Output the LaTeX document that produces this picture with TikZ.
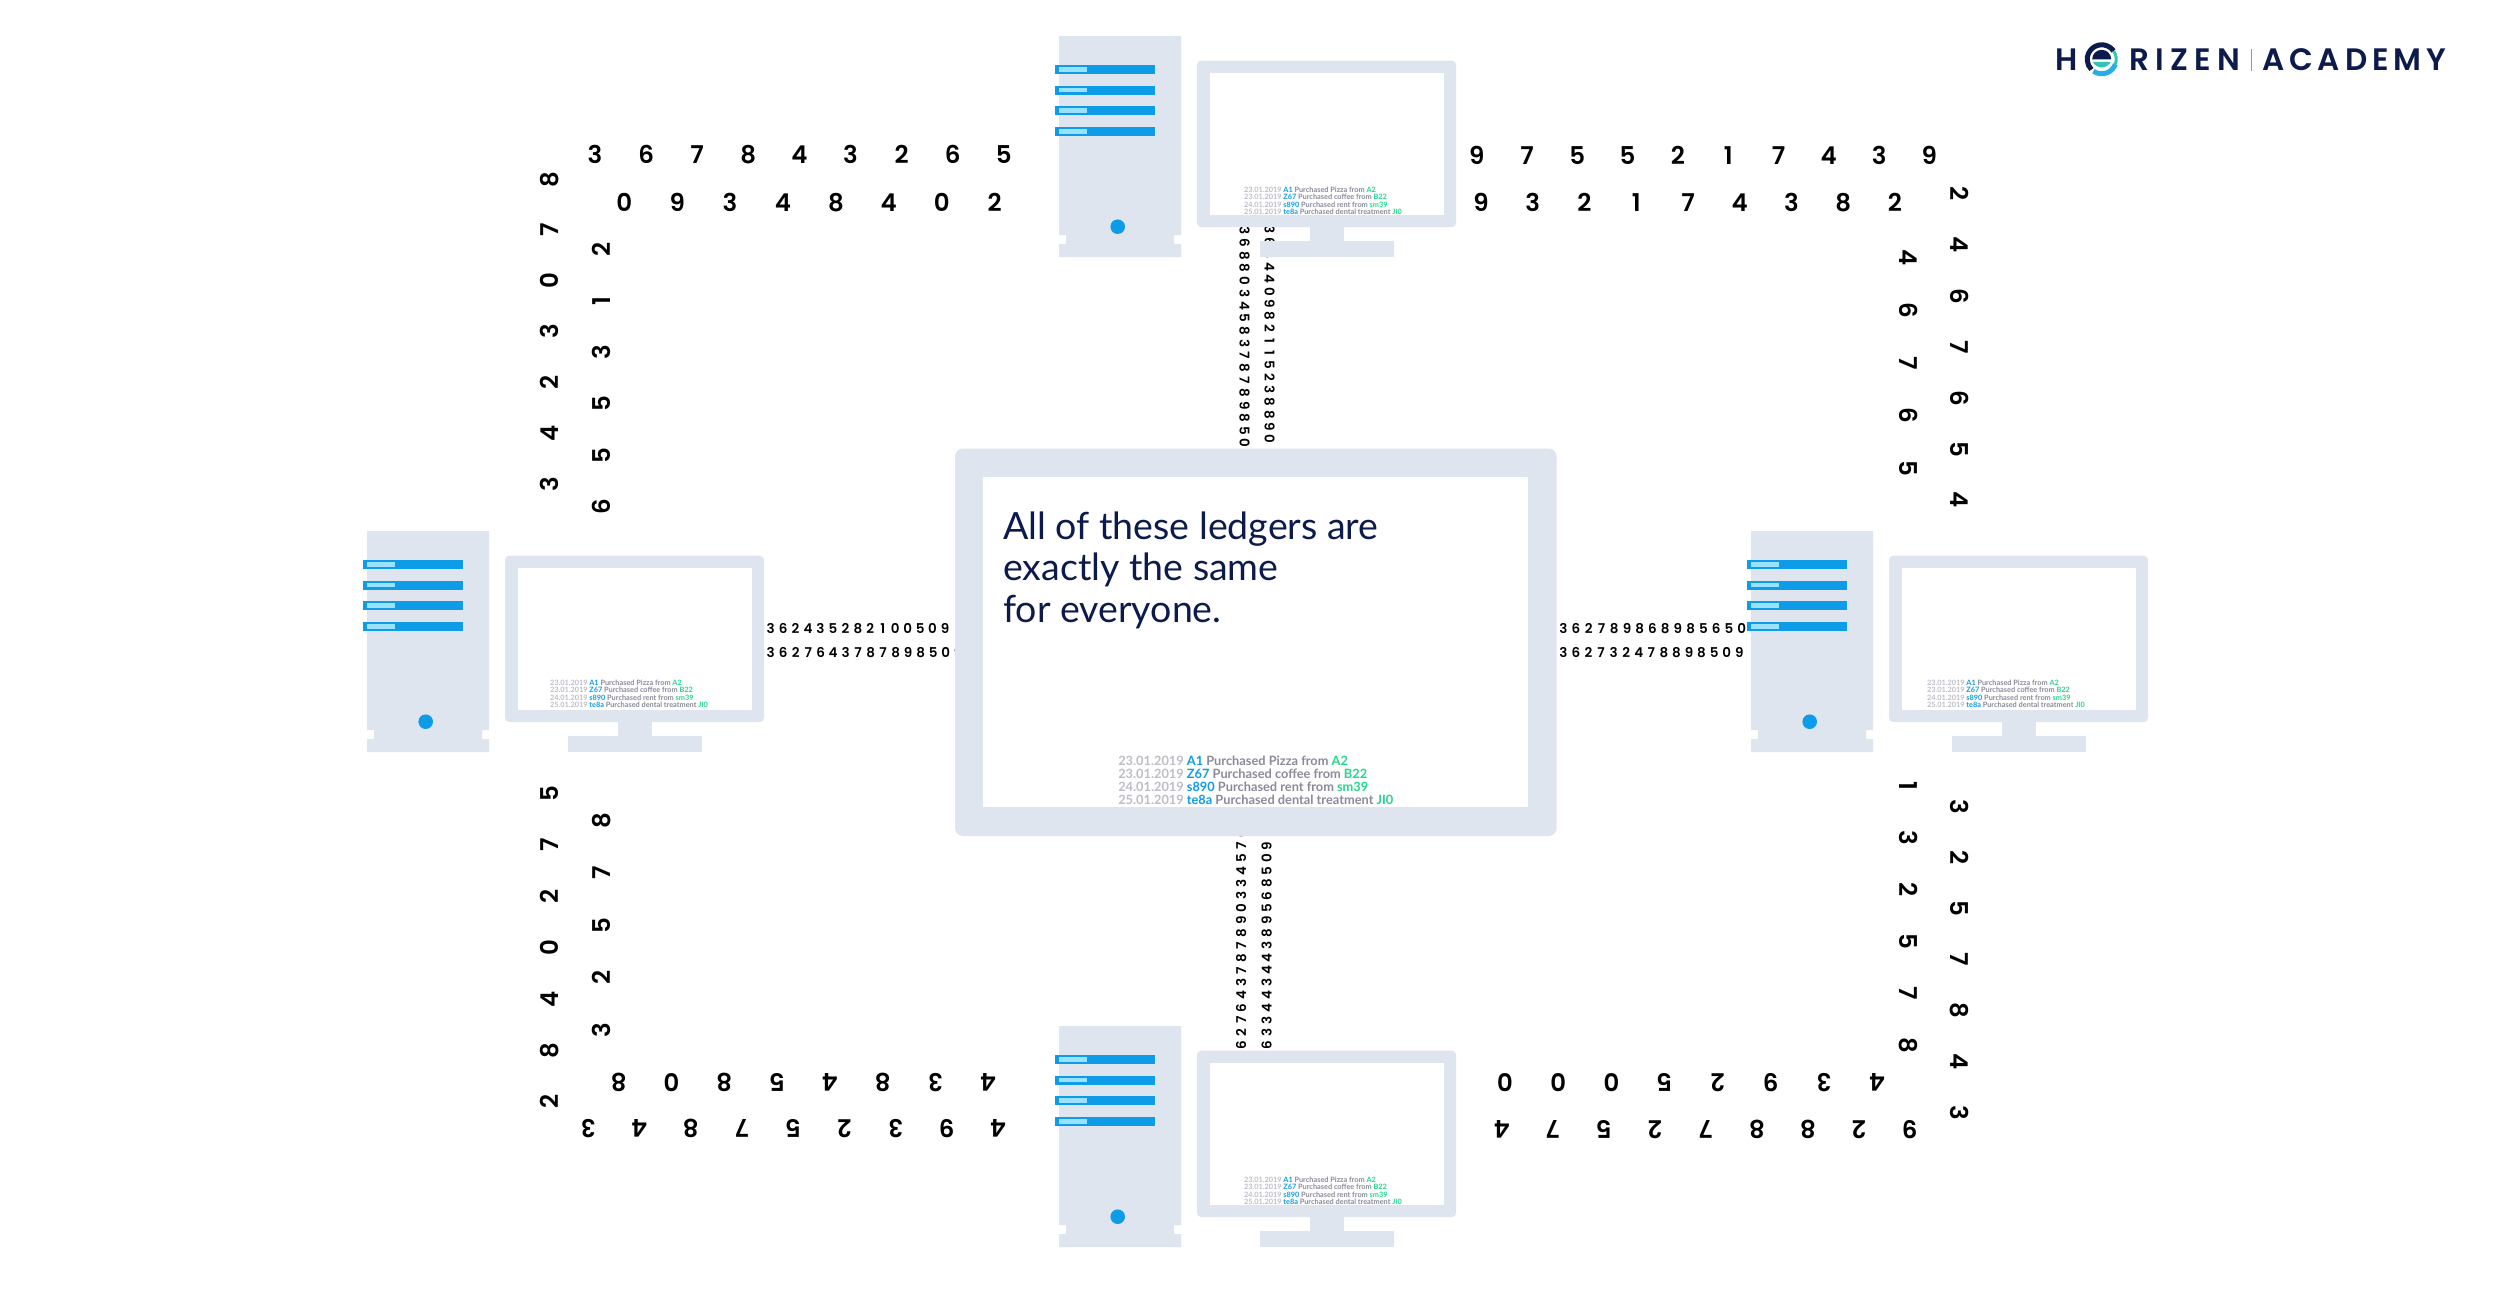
\documentclass[tikz,border=0pt]{standalone}
\usepackage{fontspec}
\setmainfont{Lato}
\newfontfamily\popm{Poppins SemiBold}
\newfontfamily\logoA[LetterSpace=21]{Poppins SemiBold}
\newfontfamily\logoB[LetterSpace=16]{Poppins SemiBold}
\definecolor{panel}{HTML}{DFE5EF}
\definecolor{barblue}{HTML}{0E9CE8}
\definecolor{barlight}{HTML}{99E2FF}
\definecolor{navy}{HTML}{0D1B4C}
\definecolor{dategray}{HTML}{BDBDC9}
\definecolor{textgray}{HTML}{8A8A9B}
\definecolor{idblue}{HTML}{0E9CE8}
\definecolor{acgreen}{HTML}{22D88A}
\definecolor{logoblue}{HTML}{27AEE4}
\definecolor{logoteal}{HTML}{2FC6B4}
\tikzset{
  shape panel/.style={fill=panel,draw=none},
  bigd/.style={inner sep=0pt,outer sep=0pt,anchor=base west,text=black,font=\popm\fontsize{24.5}{24.5}\selectfont},
  smalld/.style={inner sep=0pt,outer sep=0pt,anchor=base west,text=black,font=\popm\fontsize{13.5}{13.5}\selectfont},
  ledgerline/.style={inner sep=0pt,outer sep=0pt,anchor=base west,font=\bfseries\fontsize{#1}{#1}\selectfont},
  logotext/.style={inner sep=0pt,outer sep=0pt,anchor=base west,text=navy},
}
\newlength\dgw
\def\dgloop#1{\ifx#1\relax\else\makebox[0pt][c]{#1}\kern\dgw\expandafter\dgloop\fi}
% style, name, x, y, rotation, pitch, digits
\newcommand\dgrow[7]{\node[#1,rotate=#5] (#2) at (#3,#4) {\setlength\dgw{#6pt}\dgloop#7\relax};}
% prefix, x, y, size, lead
\newcommand\ledger[5]{%
  \node[ledgerline=#4] (#1a) at (#2,#3) {\textcolor{dategray}{23.01.2019} \textcolor{idblue}{A1} \textcolor{textgray}{Purchased Pizza from} \textcolor{acgreen}{A2}};
  \node[ledgerline=#4] (#1b) at (#2,#3+#5) {\textcolor{dategray}{23.01.2019} \textcolor{idblue}{Z67} \textcolor{textgray}{Purchased coffee from} \textcolor{acgreen}{B22}};
  \node[ledgerline=#4] (#1c) at (#2,#3+2*#5) {\textcolor{dategray}{24.01.2019} \textcolor{idblue}{s890} \textcolor{textgray}{Purchased rent from} \textcolor{acgreen}{sm39}};
  \node[ledgerline=#4] (#1d) at (#2,#3+3*#5) {\textcolor{dategray}{25.01.2019} \textcolor{idblue}{te8a} \textcolor{textgray}{Purchased dental treatment} \textcolor{acgreen}{JI0}};
}
% prefix, dx, dy, ledger x, ledger y
\newcommand\pcunit[5]{%
  \begin{scope}[shift={(#2,#3)}]
    \fill[shape panel] (1059,36) -- (1181,36) -- (1181,235) -- (1174,235) -- (1174,244) -- (1181,244) -- (1181,257) -- (1059,257) -- (1059,244) -- (1066,244) -- (1066,235) -- (1059,235) -- cycle;
    \foreach \yy in {65,85.6,106,127}{
      \fill[barblue] (1055,\yy) rectangle (1155,\yy+9.2);
      \fill[barlight] (1059,\yy+2.2) rectangle (1087,\yy+6.8);
    }
    \fill[barblue] (1117.7,226.7) circle[radius=7.3pt];
    \fill[shape panel] (1310,225) rectangle (1343.7,243);
    \fill[shape panel] (1259.5,241) rectangle (1393.5,257);
    \fill[shape panel,rounded corners=4pt] (1197,60.7) rectangle (1456,227);
    \fill[white] (1209.5,73) rectangle (1444,215);
    \ledger{#1}{#4}{#5}{7.35}{7.4}
  \end{scope}
}
\begin{document}
\begin{tikzpicture}[x=1pt,y=-1pt]
\useasboundingbox (0,0) rectangle (2501,1312);
\fill[white] (0,0) rectangle (2501,1312);

% digit streams: large horizontal
\dgrow{bigd}{tla}{595}{163.8}{0}{51.1}{367843265}
\dgrow{bigd}{tlb}{624.3}{211.2}{0}{52.9}{09348402}
\dgrow{bigd}{tra}{1476.7}{164.5}{0}{50.3}{9755217439}
\dgrow{bigd}{trb}{1481}{211.5}{0}{51.75}{932174382}
\dgrow{bigd}{bla}{988.3}{1073}{180}{52.8}{43845808}
\dgrow{bigd}{blb}{998.3}{1119.3}{180}{51.25}{493257843}
\dgrow{bigd}{bra}{1877.3}{1073}{180}{53.2}{43925000}
\dgrow{bigd}{brb}{1910}{1120}{180}{51}{928872574}
% large vertical
\dgrow{bigd}{lta}{558}{484}{90}{50.8}{3423078}
\dgrow{bigd}{ltb}{610}{506.6}{90}{51.4}{655312}
\dgrow{bigd}{rta}{1950.5}{194}{-90}{51}{2467654}
\dgrow{bigd}{rtb}{1899.5}{257.8}{-90}{52.6}{46765}
\dgrow{bigd}{lba}{558}{1101.6}{90}{51.3}{2840275}
\dgrow{bigd}{lbb}{610}{1029.8}{90}{52.2}{32578}
\dgrow{bigd}{rba}{1950.5}{806.5}{-90}{51}{3257843}
\dgrow{bigd}{rbb}{1899.5}{785.7}{-90}{52}{132578}
% small streams
\dgrow{smalld}{ca}{770.7}{633.5}{0}{12.45}{362435282100509}
\dgrow{smalld}{cb}{770.7}{657.5}{0}{12.5}{3627643787898509}
\dgrow{smalld}{cc}{1563.3}{633.5}{0}{12.74}{362789868985650}
\dgrow{smalld}{cd}{1563.3}{657.8}{0}{12.57}{362732478898509}
\dgrow{smalld}{ce}{1239.5}{230.7}{-90}{12.5}{368803458378789850}
\dgrow{smalld}{cf}{1264.5}{230}{-90}{12.3}{363440982115238890}
\dgrow{smalld}{cg}{1246}{1045}{90}{12.44}{627643787890334570}
\dgrow{smalld}{ch}{1271.7}{1045}{90}{12.44}{63344344389568509}

% machines
\pcunit{top}{0}{0}{1244}{192.3}
\pcunit{lft}{-692}{495}{1242}{190.5}
\pcunit{rgt}{692}{495}{1235}{190.5}
\pcunit{bot}{0}{990}{1244}{192.3}

% central monitor
\fill[shape panel,rounded corners=8pt] (955,448.5) rectangle (1556.7,836);
\fill[white] (982.5,476.5) rectangle (1528,807);
\node[inner sep=0pt,anchor=base west,text=navy,font=\fontsize{37.5}{37.5}\selectfont] (headA) at (1003,539) {All of these ledgers are};
\node[inner sep=0pt,anchor=base west,text=navy,font=\fontsize{37.5}{37.5}\selectfont] (headB) at (1003,580.5) {exactly the same};
\node[inner sep=0pt,anchor=base west,text=navy,font=\fontsize{37.5}{37.5}\selectfont] (headC) at (1003,622) {for everyone.};
\ledger{mid}{1118.3}{765.5}{12.8}{12.9}

% logo
\node[logotext,font=\logoA\fontsize{31}{31}\selectfont] (logoH) at (2055,70.7) {H};
\node[logotext,font=\logoA\fontsize{31}{31}\selectfont] (logoR) at (2129,70.7) {RIZEN};
\node[logotext,font=\logoB\fontsize{31}{31}\selectfont] (logoC) at (2262,70.7) {ACADEMY};
\fill[logoteal] (2251.2,49) rectangle (2252.4,71);
\begin{scope}[shift={(2101.7,59.3)},y=1pt]
  \draw[navy,line width=5pt] (35:14.5pt) arc[start angle=35,end angle=225,radius=14.5pt];
  \draw[logoblue,line width=5pt] (235:14.5pt) arc[start angle=235,end angle=340,radius=14.5pt];
  \draw[logoteal,line width=3pt] (340:14.5pt) arc[start angle=340,end angle=395,radius=14.5pt];
  \fill[navy] (-9.5pt,0pt) arc[start angle=180,end angle=0,radius=9.5pt] -- cycle;
  \fill[logoteal] (-9pt,-2.5pt) .. controls (-5pt,-10pt) and (5pt,-10pt) .. (9pt,-2.5pt) -- cycle;
\end{scope}
\end{tikzpicture}
\end{document}
